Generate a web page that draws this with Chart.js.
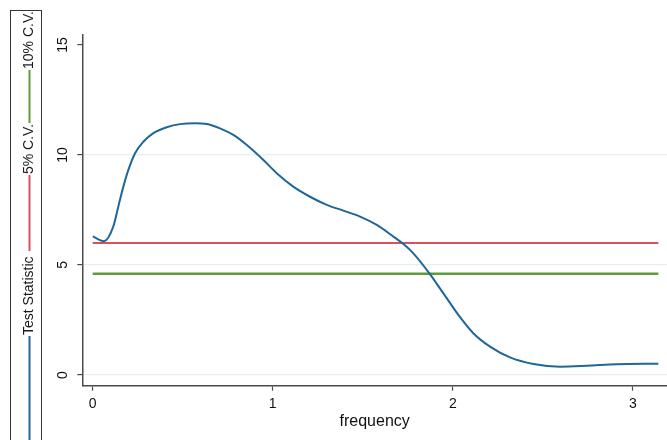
<!DOCTYPE html>
<html>
<head>
<meta charset="utf-8">
<script src="https://cdn.jsdelivr.net/npm/chart.js@4"></script>
<style>
  html, body { margin: 0; padding: 0; background: #ffffff; }
  #wrap { width: 667px; height: 440px; position: relative; }
</style>
</head>
<body>
<div id="wrap"><canvas id="c" width="667" height="440"></canvas></div>
<script>
// ---- data ----
const freq = [0.000, 0.063, 0.114, 0.142, 0.170, 0.198, 0.235, 0.281, 0.337, 0.411, 0.485, 0.568, 0.633, 0.707, 0.781, 0.856, 0.948, 1.022, 1.114, 1.207, 1.300, 1.392, 1.485, 1.578, 1.670, 1.726, 1.781, 1.870, 1.948, 2.031, 2.114, 2.207, 2.318, 2.448, 2.596, 2.744, 2.911, 3.142];
const testStat = [6.30, 6.08, 6.74, 7.65, 8.56, 9.32, 10.08, 10.60, 10.99, 11.26, 11.40, 11.44, 11.41, 11.21, 10.91, 10.45, 9.77, 9.17, 8.56, 8.10, 7.73, 7.47, 7.20, 6.82, 6.29, 5.95, 5.53, 4.62, 3.71, 2.73, 1.90, 1.29, 0.80, 0.50, 0.38, 0.42, 0.49, 0.51];
const cvRange = [0, 3.142];
const cv5 = 6.0;
const cv10 = 4.6;
const seriesNames = ['Test Statistic', '5% C.V.', '10% C.V.'];
const xTicks = [0, 1, 2, 3];
const yTicks = [0, 5, 10, 15];
const xTitle = 'frequency';

const FONT = "'Liberation Sans', Arial, sans-serif";
const AXIS = '#4a4a4a';
const GRID = '#e4eff3';

const statPoints = freq.map((f, i) => ({ x: f, y: testStat[i] }));
const cv5Points = cvRange.map(f => ({ x: f, y: cv5 }));
const cv10Points = cvRange.map(f => ({ x: f, y: cv10 }));

// rotated Stata-like legend on the left side
const rotatedLegend = {
  id: 'rotatedLegend',
  afterDraw(chart) {
    const ctx = chart.ctx;
    const cx = 29.5;
    // key segments [startY, endY] and text start Y (screen coords, text runs upward)
    const layout = [
      { key: [450, 336], text: 335 },
      { key: [251, 175], text: 174 },
      { key: [123, 70], text: 69 }
    ];
    ctx.save();
    ctx.strokeStyle = '#333333';
    ctx.lineWidth = 1;
    ctx.strokeRect(10.5, 10.5, 31, 460);
    chart.data.datasets.forEach((ds, i) => {
      const L = layout[i];
      ctx.strokeStyle = ds.borderColor;
      ctx.lineWidth = 2;
      ctx.beginPath();
      ctx.moveTo(cx, L.key[0]);
      ctx.lineTo(cx, L.key[1]);
      ctx.stroke();
      ctx.save();
      ctx.translate(cx, L.text);
      ctx.rotate(-Math.PI / 2);
      ctx.fillStyle = '#1a1a1a';
      ctx.font = '14px ' + FONT;
      ctx.textAlign = 'left';
      ctx.textBaseline = 'middle';
      ctx.fillText(ds.label, 0, 0);
      ctx.restore();
    });
    ctx.restore();
  }
};

new Chart(document.getElementById('c'), {
  type: 'line',
  data: {
    datasets: [
      { label: seriesNames[0], data: statPoints, borderColor: '#1f6799', borderWidth: 2, pointRadius: 0, cubicInterpolationMode: 'monotone', fill: false },
      { label: seriesNames[1], data: cv5Points, borderColor: '#d9525a', borderWidth: 2, pointRadius: 0, fill: false },
      { label: seriesNames[2], data: cv10Points, borderColor: '#5f9a3c', borderWidth: 2.5, pointRadius: 0, fill: false }
    ]
  },
  options: {
    responsive: false,
    animation: false,
    layout: { padding: { left: 0, top: 35, right: 0, bottom: 0 } },
    plugins: { legend: { display: false }, tooltip: { enabled: false } },
    scales: {
      x: {
        type: 'linear',
        min: -0.058,
        max: 3.19,
        afterBuildTicks: s => { s.ticks = xTicks.map(v => ({ value: v })); },
        afterFit: s => { s.height = 54.3; },
        grid: { drawOnChartArea: false, drawTicks: true, tickLength: 5, tickColor: AXIS, tickWidth: 1.2 },
        border: { display: true, color: AXIS, width: 1.5 },
        ticks: { color: '#111', font: { family: FONT, size: 14 }, padding: 5, maxRotation: 0 },
        title: { display: true, text: xTitle, color: '#111', font: { family: FONT, size: 16 }, padding: { top: 0, bottom: 9 } }
      },
      y: {
        type: 'linear',
        min: -0.486,
        max: 15.45,
        afterBuildTicks: s => { s.ticks = yTicks.map(v => ({ value: v })); },
        afterFit: s => { s.width = 82.3; },
        grid: {
          drawOnChartArea: true,
          drawTicks: true,
          tickLength: 5,
          color: ctx => (ctx.tick && ctx.tick.value === 15) ? 'rgba(0,0,0,0)' : GRID,
          lineWidth: 1.2,
          tickColor: AXIS,
          tickWidth: 1.2
        },
        border: { display: true, color: AXIS, width: 1.5 },
        ticks: { color: '#111', font: { family: FONT, size: 14 }, padding: 6, minRotation: 90, maxRotation: 90, crossAlign: 'center' }
      }
    }
  },
  plugins: [rotatedLegend]
});
</script>
</body>
</html>
